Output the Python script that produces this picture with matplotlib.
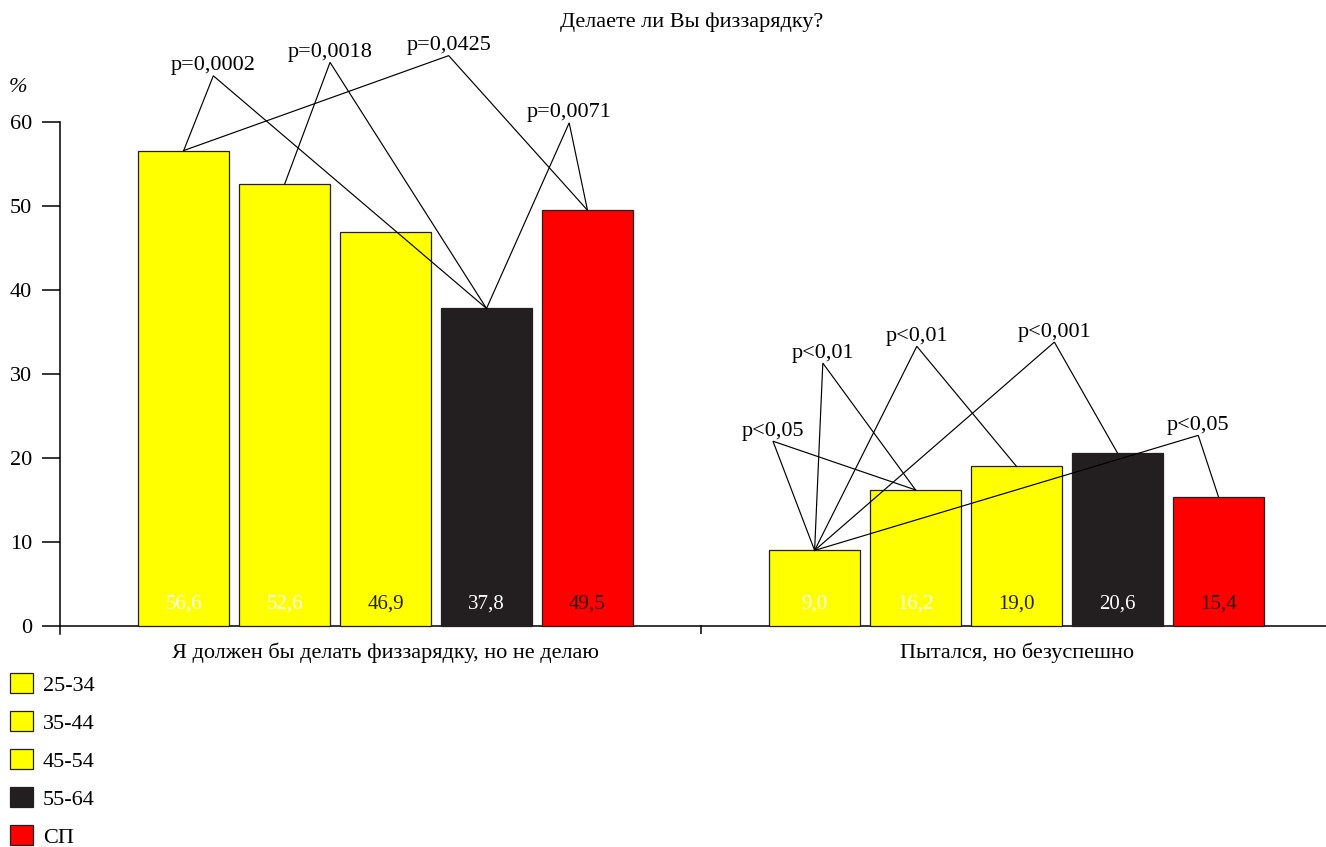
import matplotlib
matplotlib.use("Agg")
import matplotlib.pyplot as plt
import numpy as np

plt.rcParams['font.family'] = ['Liberation Serif', 'DejaVu Serif']

# Survey: "Do you do morning exercise?" by age group
categories = ["Я должен бы делать физзарядку, но не делаю", "Пытался, но безуспешно"]
groups = ["25-34", "35-44", "45-54", "55-64", "СП"]
colors = ["#ffff00", "#ffff00", "#ffff00", "#231f20", "#ff0000"]
label_colors = ["white", "white", "#231f20", "white", "#2a1515"]

vals_25_34 = [56.6, 9.0]
vals_35_44 = [52.6, 16.2]
vals_45_54 = [46.9, 19.0]
vals_55_64 = [37.8, 20.6]
vals_sp = [49.5, 15.4]
series = [vals_25_34, vals_35_44, vals_45_54, vals_55_64, vals_sp]

# Pairwise comparisons: (category, bar i, bar j, label)
comparisons = [
    (0, 0, 3, "p=0,0002"),
    (0, 1, 3, "p=0,0018"),
    (0, 0, 4, "p=0,0425"),
    (0, 3, 4, "p=0,0071"),
    (1, 0, 1, "p<0,05"),
    (1, 0, 1, "p<0,01"),
    (1, 0, 2, "p<0,01"),
    (1, 0, 3, "p<0,001"),
    (1, 0, 4, "p<0,05"),
]
# Apex of each comparison bracket (x, y in data units)
apex_points = [
    (-0.273, 65.5), (-0.088, 67.1), (0.100, 67.9), (0.291, 59.9),
    (0.614, 22.0), (0.693, 31.3), (0.842, 33.3), (1.060, 33.8), (1.288, 22.7),
]

W, H, DPI = 1326, 847, 100
fig = plt.figure(figsize=(W / DPI, H / DPI), dpi=DPI)
ax = fig.add_axes([60 / W, (847 - 634) / H, 1266 / W, (634 - 122) / H])

x = np.arange(len(categories))
step = 0.16
width = 0.144
offsets = (np.arange(len(groups)) - 2) * step

containers = []
for k, (g, vals) in enumerate(zip(groups, series)):
    bc = ax.bar(x + offsets[k], vals, width, color=colors[k], edgecolor="#231f20",
                linewidth=0.9, label=g, zorder=2)
    containers.append(bc)
    for xi, v in zip(x + offsets[k], vals):
        ax.text(xi, 2.6, f"{v:.1f}".replace(".", ","), ha="center", va="center",
                fontsize=15, color=label_colors[k], zorder=4)

for (ci, a, b, lab), (px, py) in zip(comparisons, apex_points):
    xa = x[ci] + offsets[a]
    xb = x[ci] + offsets[b]
    ya = series[a][ci]
    yb = series[b][ci]
    ax.plot([xa, px, xb], [ya, py, yb], color="black", lw=0.85, zorder=3,
            clip_on=False, solid_joinstyle="miter")
    ax.annotate(lab, (px, py), xytext=(0, 4), textcoords="offset points",
                ha="center", va="baseline", fontsize=16, annotation_clip=False)

ax.set_xlim(-0.516, 1.4905)
ax.set_ylim(-0.95, 60)
for s in ["top", "right", "bottom"]:
    ax.spines[s].set_visible(False)
ax.spines["left"].set_linewidth(1.1)
ax.axhline(0, color="black", lw=1.1, zorder=1)
ax.plot([0.5, 0.5], [-0.95, 0], color="black", lw=1.1)

ax.set_yticks(np.arange(0, 61, 10))
ax.tick_params(axis="y", length=13, width=1.1, pad=7, labelsize=16)
ax.set_xticks(x, categories)
ax.tick_params(axis="x", length=0, pad=6, labelsize=16)

fig.text(692 / W, 1 - 22 / H, "Делаете ли Вы физзарядку?", ha="center", va="center",
         fontsize=16)
fig.text(18 / W, 1 - 88 / H, "%", ha="center", va="center", fontsize=16,
         style="italic")

fig.legend(handles=containers, labels=groups, loc="upper left",
           bbox_to_anchor=(10 / W, 1 - 673 / H), frameon=False, fontsize=16,
           handlelength=1.04, handleheight=1.04, handletextpad=0.45,
           labelspacing=0.68, borderpad=0, borderaxespad=0)

fig.savefig("out.png", dpi=DPI)
